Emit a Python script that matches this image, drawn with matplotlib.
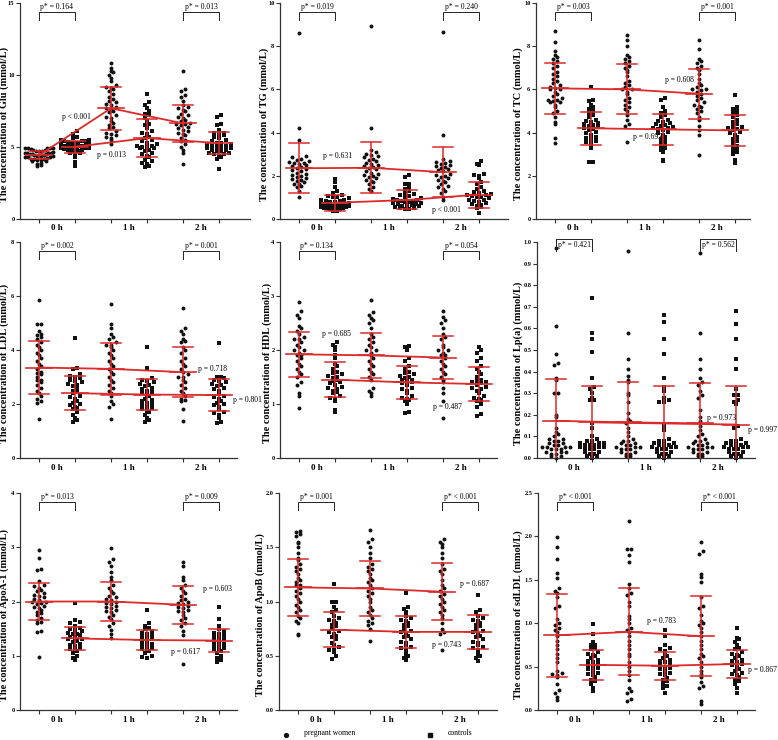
import numpy as np
import matplotlib
matplotlib.use("Agg")
import matplotlib.pyplot as plt

# ---------------- data ----------------
group_order = ["preg_0h", "ctrl_0h", "preg_1h", "ctrl_1h", "preg_2h", "ctrl_2h"]
time_labels = ["0 h", "1 h", "2 h"]
legend_labels = ["pregnant women", "controls"]

# Glu
glu_preg_0h = [3.7,3.75,3.85,3.9,4.0,4.05,4.1,4.1,4.15,4.2,4.2,4.25,4.3,4.3,4.3,4.35,4.4,4.4,4.4,4.45,4.45,4.5,4.5,4.5,4.55,4.6,4.6,4.6,4.65,4.7,4.7,4.75,4.8,4.8,4.85,4.9,4.9,4.95,4.95,4.95]
glu_ctrl_0h = [3.7,3.95,4.3,4.5,4.6,4.6,4.7,4.7,4.75,4.8,4.8,4.85,4.9,4.9,4.95,5.0,5.0,5.0,5.05,5.1,5.1,5.1,5.15,5.2,5.2,5.25,5.3,5.3,5.35,5.4,5.4,5.45,5.5,5.5,5.6,5.7,5.9,6.1]
glu_preg_1h = [5.2,5.5,5.6,5.7,5.8,5.9,6.0,6.1,6.3,6.4,6.5,6.7,6.8,7.0,7.1,7.2,7.4,7.5,7.6,7.7,7.8,7.9,8.0,8.1,8.2,8.3,8.5,8.7,8.9,9.0,9.1,9.2,9.3,9.6,9.8,10.0,10.2,10.3,10.5,10.8]
glu_ctrl_1h = [3.6,3.7,3.8,3.9,4.0,4.1,4.3,4.4,4.5,4.6,4.7,4.8,4.9,4.9,5.0,5.0,5.1,5.1,5.2,5.3,5.4,5.5,5.6,5.7,5.9,6.0,6.1,6.3,6.5,6.6,6.8,7.0,7.2,7.3,7.5,7.7,7.9,8.1,8.7]
glu_preg_2h = [3.8,4.6,4.8,5.0,5.2,5.4,5.5,5.6,5.8,5.9,6.0,6.1,6.2,6.3,6.4,6.5,6.6,6.6,6.7,6.8,6.9,7.0,7.1,7.2,7.3,7.5,7.6,7.7,7.8,7.9,8.2,8.5,8.6,8.9,9.0,10.3]
glu_ctrl_2h = [3.5,4.2,4.3,4.4,4.5,4.5,4.6,4.6,4.7,4.7,4.8,4.8,4.9,4.9,5.0,5.0,5.1,5.1,5.2,5.2,5.3,5.3,5.4,5.5,5.6,5.7,5.8,5.9,6.0,6.0,6.2,6.5,6.6,7.1,7.2]
glu_mean = [4.43, 5.02, 7.69, 5.62, 6.64, 5.27]
glu_sd = [0.27, 0.41, 1.50, 1.33, 1.28, 0.75]

# TG
tg_preg_0h = [1.0,1.3,1.5,1.55,1.6,1.6,1.7,1.75,1.8,1.85,1.9,1.95,2.0,2.05,2.1,2.15,2.2,2.25,2.3,2.35,2.4,2.45,2.5,2.55,2.6,2.6,2.65,2.7,2.75,2.8,2.85,2.9,3.65,4.2,8.6]
tg_ctrl_0h = [0.35,0.38,0.4,0.42,0.45,0.48,0.5,0.5,0.52,0.55,0.55,0.58,0.6,0.6,0.62,0.65,0.65,0.68,0.7,0.72,0.75,0.78,0.8,0.82,0.85,0.88,0.9,0.95,1.0,1.0,1.05,1.1,1.2,1.3,1.5,1.7,1.85]
tg_preg_1h = [1.3,1.4,1.5,1.6,1.7,1.75,1.8,1.9,1.95,2.0,2.05,2.1,2.15,2.2,2.3,2.35,2.4,2.45,2.5,2.55,2.6,2.7,2.75,2.8,2.85,2.9,2.95,3.0,3.1,3.2,4.2,8.95]
tg_ctrl_1h = [0.45,0.48,0.5,0.52,0.55,0.58,0.6,0.62,0.65,0.68,0.7,0.72,0.75,0.78,0.8,0.82,0.85,0.88,0.9,0.92,0.95,1.0,1.05,1.1,1.15,1.2,1.3,1.4,1.5,1.6,1.6,1.95,2.05]
tg_preg_2h = [0.9,1.0,1.2,1.3,1.4,1.5,1.55,1.6,1.7,1.75,1.8,1.9,1.95,2.0,2.05,2.1,2.2,2.25,2.3,2.35,2.4,2.45,2.5,2.55,2.6,2.65,2.7,2.8,3.9,8.65]
tg_ctrl_2h = [0.3,0.5,0.55,0.6,0.65,0.7,0.75,0.8,0.85,0.9,0.9,0.95,1.0,1.0,1.05,1.1,1.1,1.15,1.2,1.25,1.3,1.4,1.5,1.6,1.7,1.9,2.0,2.05,2.1,2.5,2.55,2.7]
tg_mean = [2.35, 0.75, 2.37, 0.88, 2.17, 1.13]
tg_sd = [1.15, 0.36, 1.18, 0.44, 1.17, 0.60]

# TC
tc_preg_0h = [3.5,3.75,4.4,4.5,4.7,4.9,5.0,5.2,5.3,5.4,5.4,5.45,5.5,5.5,5.6,5.7,5.8,5.9,6.0,6.0,6.05,6.1,6.2,6.3,6.4,6.5,6.6,6.7,6.8,7.0,7.1,7.2,7.3,7.4,7.5,7.6,7.8,8.2,8.7]
tc_ctrl_0h = [2.65,2.65,3.3,3.4,3.5,3.55,3.6,3.7,3.75,3.8,3.9,4.0,4.05,4.1,4.15,4.2,4.25,4.3,4.35,4.4,4.45,4.5,4.55,4.6,4.7,4.8,4.9,5.0,5.1,5.2,5.3,5.45,5.5,6.1]
tc_preg_1h = [3.55,4.3,4.4,4.6,4.8,5.0,5.1,5.2,5.3,5.4,5.5,5.6,5.8,5.9,6.0,6.0,6.1,6.2,6.3,6.4,6.6,6.8,6.9,7.0,7.1,7.2,7.3,7.4,7.5,7.6,8.0,8.3,8.5]
tc_ctrl_1h = [2.7,2.75,3.1,3.2,3.3,3.4,3.45,3.5,3.6,3.7,3.8,3.9,4.0,4.05,4.1,4.15,4.2,4.2,4.25,4.3,4.35,4.4,4.45,4.5,4.55,4.6,4.7,4.8,4.9,5.0,5.2,5.5,5.6]
tc_preg_2h = [2.95,3.9,4.1,4.3,4.6,4.7,4.9,5.0,5.1,5.2,5.25,5.3,5.4,5.5,5.6,5.7,5.8,5.9,5.95,6.0,6.0,6.1,6.2,6.3,6.5,6.7,6.9,7.0,7.1,7.2,7.3,7.4,7.85,8.3]
tc_ctrl_2h = [2.6,2.75,3.0,3.1,3.2,3.3,3.35,3.4,3.5,3.6,3.7,3.8,3.9,4.0,4.05,4.1,4.15,4.2,4.25,4.3,4.4,4.5,4.6,4.7,4.8,4.9,5.0,5.1,5.2,5.75]
tc_mean = [6.05, 4.20, 6.00, 4.15, 5.80, 4.10]
tc_sd = [1.17, 0.76, 1.16, 0.71, 1.16, 0.72]

# LDL
ldl_preg_0h = [1.45,2.05,2.1,2.2,2.3,2.4,2.5,2.6,2.7,2.8,2.9,2.9,3.0,3.1,3.15,3.2,3.3,3.4,3.5,3.6,3.7,3.8,3.9,4.0,4.1,4.2,4.3,4.4,4.5,4.55,4.6,4.7,4.95,4.95,5.85]
ldl_ctrl_0h = [1.35,1.4,1.5,1.6,1.7,1.8,1.85,1.9,1.95,2.0,2.05,2.1,2.2,2.25,2.3,2.4,2.45,2.5,2.6,2.65,2.7,2.75,2.8,2.85,2.9,2.95,3.0,3.05,3.1,3.3,3.35,4.45]
ldl_preg_1h = [1.45,1.9,2.0,2.1,2.3,2.4,2.5,2.6,2.7,2.8,2.9,3.0,3.1,3.2,3.3,3.4,3.5,3.6,3.7,3.8,3.9,4.0,4.1,4.2,4.2,4.3,4.4,4.5,4.6,4.8,4.95,5.7]
ldl_ctrl_1h = [1.35,1.4,1.5,1.6,1.7,1.75,1.8,1.85,1.9,1.95,2.0,2.05,2.1,2.15,2.2,2.3,2.35,2.4,2.45,2.5,2.55,2.6,2.65,2.7,2.75,2.8,2.85,2.9,2.95,3.35,4.1]
ldl_preg_2h = [1.38,1.8,2.1,2.15,2.2,2.3,2.4,2.5,2.6,2.7,2.8,2.9,3.0,3.0,3.1,3.2,3.3,3.4,3.5,3.6,3.7,3.9,4.0,4.1,4.3,4.35,4.4,4.6,4.7,4.8,5.55]
ldl_ctrl_2h = [1.28,1.35,1.5,1.6,1.65,1.7,1.8,1.9,1.95,2.0,2.05,2.1,2.2,2.25,2.3,2.4,2.5,2.55,2.6,2.65,2.7,2.75,2.8,2.85,2.9,2.95,3.0,3.0,4.25]
ldl_mean = [3.35, 2.40, 3.30, 2.35, 3.18, 2.33]
ldl_sd = [0.97, 0.63, 0.95, 0.57, 0.92, 0.59]

# HDL
hdl_preg_0h = [0.92,1.15,1.2,1.35,1.4,1.5,1.55,1.6,1.65,1.7,1.75,1.8,1.85,1.9,1.9,1.95,2.0,2.0,2.05,2.1,2.15,2.2,2.2,2.25,2.3,2.35,2.4,2.45,2.6,2.65,2.72,2.88]
hdl_ctrl_0h = [0.85,0.88,1.05,1.1,1.12,1.15,1.2,1.22,1.25,1.28,1.3,1.32,1.35,1.38,1.4,1.42,1.45,1.48,1.5,1.52,1.55,1.58,1.6,1.65,1.7,1.75,1.85,1.9,2.0,2.05,2.1,2.15]
hdl_preg_1h = [1.15,1.2,1.25,1.3,1.45,1.5,1.55,1.6,1.65,1.7,1.75,1.8,1.85,1.9,1.95,2.0,2.0,2.05,2.1,2.15,2.2,2.25,2.3,2.4,2.5,2.55,2.6,2.65,2.7,2.93]
hdl_ctrl_1h = [0.83,0.85,1.0,1.05,1.08,1.1,1.12,1.15,1.2,1.25,1.28,1.3,1.35,1.38,1.4,1.42,1.45,1.45,1.48,1.5,1.52,1.55,1.58,1.6,1.65,1.7,1.8,1.85,2.0,2.05,2.08]
hdl_preg_2h = [0.75,1.05,1.2,1.3,1.4,1.45,1.5,1.55,1.6,1.65,1.7,1.75,1.8,1.85,1.9,1.9,1.95,2.0,2.0,2.05,2.1,2.2,2.25,2.3,2.4,2.5,2.55,2.62,2.72]
hdl_ctrl_2h = [0.78,0.82,0.95,1.0,1.05,1.08,1.1,1.12,1.15,1.2,1.25,1.28,1.3,1.32,1.35,1.38,1.4,1.4,1.42,1.45,1.5,1.55,1.6,1.65,1.7,1.8,1.85,1.95,2.0,2.05]
hdl_mean = [1.92, 1.45, 1.90, 1.40, 1.86, 1.37]
hdl_sd = [0.42, 0.32, 0.42, 0.31, 0.40, 0.31]

# Lp(a)
lpa_preg_0h = [0.97,0.61,0.48,0.44,0.43,0.37,0.36,0.30,0.30,0.20,0.19,0.14,0.12,0.11,0.10,0.09,0.09,0.08,0.08,0.07,0.07,0.06,0.06,0.05,0.05,0.05,0.05,0.04,0.04,0.04,0.03,0.03,0.03,0.02,0.02,0.01,0.01,0.0]
lpa_ctrl_0h = [0.74,0.58,0.55,0.49,0.37,0.33,0.32,0.30,0.28,0.27,0.27,0.16,0.14,0.10,0.09,0.08,0.08,0.07,0.07,0.07,0.06,0.06,0.06,0.05,0.05,0.05,0.04,0.04,0.04,0.03,0.03,0.02,0.02,0.01,0.01,0.0]
lpa_preg_1h = [0.96,0.58,0.46,0.41,0.38,0.36,0.35,0.30,0.29,0.26,0.21,0.18,0.17,0.16,0.14,0.12,0.10,0.09,0.08,0.08,0.07,0.07,0.06,0.06,0.05,0.05,0.05,0.04,0.04,0.04,0.03,0.03,0.02,0.02,0.01,0.01]
lpa_ctrl_1h = [0.66,0.63,0.55,0.48,0.37,0.33,0.31,0.28,0.27,0.26,0.26,0.15,0.13,0.09,0.08,0.08,0.07,0.07,0.06,0.06,0.06,0.05,0.05,0.05,0.04,0.04,0.04,0.03,0.03,0.02,0.02,0.01,0.01,0.0]
lpa_preg_2h = [0.95,0.58,0.46,0.41,0.37,0.35,0.34,0.31,0.29,0.28,0.22,0.19,0.17,0.15,0.13,0.11,0.10,0.09,0.08,0.08,0.07,0.07,0.06,0.06,0.05,0.05,0.05,0.04,0.04,0.04,0.03,0.03,0.02,0.02,0.01,0.01]
lpa_ctrl_2h = [0.68,0.62,0.55,0.46,0.41,0.32,0.29,0.29,0.27,0.26,0.25,0.15,0.14,0.09,0.08,0.08,0.07,0.07,0.06,0.06,0.06,0.05,0.05,0.05,0.04,0.04,0.04,0.03,0.03,0.02,0.02,0.01,0.01,0.0]
lpa_mean = [0.172, 0.165, 0.165, 0.160, 0.160, 0.155]
lpa_sd = [0.193, 0.170, 0.185, 0.173, 0.185, 0.178]

# ApoA-1
apoa_preg_0h = [0.98,1.43,1.45,1.6,1.62,1.65,1.7,1.75,1.78,1.8,1.85,1.88,1.9,1.92,1.95,1.98,2.0,2.0,2.02,2.05,2.08,2.1,2.12,2.15,2.2,2.22,2.25,2.28,2.3,2.38,2.58,2.6,2.8,2.95]
apoa_ctrl_0h = [0.92,0.95,1.0,1.05,1.08,1.1,1.12,1.15,1.18,1.2,1.22,1.25,1.28,1.3,1.3,1.32,1.35,1.38,1.4,1.4,1.42,1.45,1.48,1.5,1.52,1.55,1.6,1.62,1.65,1.97]
apoa_preg_1h = [1.33,1.4,1.48,1.55,1.6,1.68,1.72,1.75,1.8,1.82,1.85,1.88,1.9,1.92,1.95,1.98,2.0,2.02,2.05,2.08,2.1,2.15,2.2,2.25,2.3,2.4,2.45,2.55,2.65,2.72,2.78,2.98]
apoa_ctrl_1h = [0.95,0.97,1.0,1.05,1.08,1.1,1.12,1.15,1.18,1.2,1.22,1.25,1.28,1.3,1.32,1.35,1.38,1.4,1.42,1.45,1.5,1.52,1.55,1.6,1.85]
apoa_preg_2h = [0.84,1.38,1.45,1.55,1.6,1.65,1.7,1.75,1.8,1.82,1.85,1.88,1.9,1.92,1.95,1.98,2.0,2.02,2.05,2.1,2.15,2.2,2.25,2.3,2.4,2.45,2.65,2.72]
apoa_ctrl_2h = [0.88,0.92,0.95,1.0,1.05,1.08,1.1,1.12,1.15,1.18,1.2,1.22,1.25,1.28,1.3,1.32,1.35,1.38,1.4,1.42,1.45,1.5,1.55,1.68,1.9]
apoa_mean = [2.00, 1.32, 2.00, 1.29, 1.94, 1.28]
apoa_sd = [0.35, 0.21, 0.36, 0.19, 0.35, 0.21]

# ApoB
apob_preg_0h = [0.69,0.7,0.8,0.82,0.85,0.87,0.9,0.92,0.95,0.97,1.0,1.02,1.05,1.08,1.1,1.12,1.15,1.15,1.18,1.2,1.22,1.25,1.28,1.3,1.32,1.35,1.38,1.4,1.45,1.5,1.54,1.55,1.6,1.62,1.64,1.65]
apob_ctrl_0h = [0.47,0.5,0.53,0.55,0.55,0.58,0.6,0.62,0.65,0.67,0.68,0.7,0.72,0.73,0.75,0.77,0.78,0.8,0.82,0.83,0.85,0.87,0.9,0.92,0.95,1.0,1.0,1.16]
apob_preg_1h = [0.64,0.75,0.78,0.8,0.82,0.85,0.88,0.9,0.92,0.95,1.0,1.02,1.05,1.08,1.1,1.12,1.15,1.18,1.2,1.22,1.25,1.28,1.3,1.32,1.35,1.4,1.45,1.5,1.55,1.58,1.66]
apob_ctrl_1h = [0.46,0.48,0.5,0.52,0.55,0.57,0.58,0.6,0.62,0.63,0.65,0.67,0.68,0.7,0.72,0.73,0.75,0.77,0.78,0.8,0.82,0.83,0.85,0.87,0.9,0.93,0.95,1.08]
apob_preg_2h = [0.55,0.7,0.72,0.75,0.8,0.85,0.88,0.9,0.92,0.95,0.98,1.0,1.02,1.05,1.07,1.1,1.12,1.15,1.2,1.25,1.28,1.3,1.35,1.4,1.45,1.5,1.53,1.55,1.58]
apob_ctrl_2h = [0.45,0.48,0.5,0.52,0.55,0.57,0.58,0.6,0.62,0.63,0.65,0.67,0.68,0.7,0.72,0.73,0.75,0.77,0.78,0.8,0.82,0.83,0.85,0.87,0.9,0.92,1.06]
apob_mean = [1.13, 0.74, 1.12, 0.72, 1.09, 0.72]
apob_sd = [0.26, 0.16, 0.255, 0.15, 0.265, 0.155]

# sdLDL
sdldl_preg_0h = [0.12,0.15,0.2,0.23,0.3,0.38,0.4,0.42,0.43,0.45,0.55,0.6,0.65,0.7,0.75,0.8,0.85,0.9,0.92,0.95,0.98,1.0,1.05,1.18,1.2,1.3,1.35,1.37,1.4,1.52,1.58,1.74,1.88,1.99]
sdldl_ctrl_0h = [0.22,0.25,0.3,0.33,0.35,0.38,0.4,0.42,0.43,0.45,0.47,0.48,0.5,0.52,0.53,0.55,0.57,0.58,0.6,0.62,0.63,0.65,0.67,0.7,0.72,0.75,0.75,0.78,0.87,0.99]
sdldl_preg_1h = [0.1,0.13,0.2,0.22,0.25,0.35,0.4,0.45,0.5,0.55,0.62,0.65,0.7,0.75,0.8,0.85,0.9,0.92,0.95,1.0,1.05,1.08,1.2,1.25,1.32,1.35,1.4,1.45,1.7,1.78,1.85,1.86,2.18]
sdldl_ctrl_1h = [0.2,0.25,0.28,0.3,0.33,0.35,0.37,0.4,0.42,0.43,0.45,0.47,0.48,0.5,0.52,0.53,0.55,0.57,0.58,0.6,0.62,0.65,0.68,0.7,0.72,0.75,0.85,0.92]
sdldl_preg_2h = [0.07,0.1,0.25,0.28,0.32,0.38,0.42,0.45,0.5,0.55,0.6,0.62,0.65,0.7,0.75,0.8,0.85,0.9,0.95,0.98,1.0,1.02,1.1,1.18,1.2,1.3,1.48,1.53,1.57,1.8,1.83,1.94]
sdldl_ctrl_2h = [0.2,0.25,0.3,0.33,0.35,0.38,0.4,0.42,0.43,0.45,0.47,0.5,0.52,0.53,0.55,0.57,0.58,0.6,0.62,0.63,0.65,0.67,0.7,0.72,0.75,0.78,0.82,0.83,0.95]
sdldl_mean = [0.86, 0.52, 0.90, 0.51, 0.85, 0.53]
sdldl_sd = [0.48, 0.17, 0.50, 0.16, 0.46, 0.165]

ylabels = ["The concentration of Glu (mmol/L)", "The concentration of TG (mmol/L)",
           "The concentration of TC (mmol/L)", "The concentration of LDL (mmol/L)",
           "The concentration of HDL (mmol/L)", "The concentration of Lp(a) (mmol/L)",
           "The concentration of ApoA-1 (mmol/L)", "The concentration of ApoB (mmol/L)",
           "The concentration of sdLDL (mmol/L)"]
pstar_0h = ["p* = 0.164", "p* = 0.019", "p* = 0.003", "p* = 0.002", "p* = 0.134",
            "p* = 0.421", "p* = 0.013", "p* = 0.001", "p* < 0.001"]
pstar_2h = ["p* = 0.013", "p* = 0.240", "p* = 0.001", "p* = 0.001", "p* = 0.054",
            "p* = 0.562", "p* = 0.009", "p* < 0.001", "p* < 0.001"]
p_preg = ["p < 0.001", "p = 0.631", "p = 0.608", "p = 0.718", "p = 0.685",
          "p = 0.973", "p = 0.603", "p = 0.687", "p = 0.783"]
p_ctrl = ["p = 0.013", "p < 0.001", "p = 0.693", "p = 0.801", "p = 0.487",
          "p = 0.997", "p = 0.617", "p = 0.743", "p = 0.867"]

panel_data = [
    ([glu_preg_0h, glu_ctrl_0h, glu_preg_1h, glu_ctrl_1h, glu_preg_2h, glu_ctrl_2h], glu_mean, glu_sd),
    ([tg_preg_0h, tg_ctrl_0h, tg_preg_1h, tg_ctrl_1h, tg_preg_2h, tg_ctrl_2h], tg_mean, tg_sd),
    ([tc_preg_0h, tc_ctrl_0h, tc_preg_1h, tc_ctrl_1h, tc_preg_2h, tc_ctrl_2h], tc_mean, tc_sd),
    ([ldl_preg_0h, ldl_ctrl_0h, ldl_preg_1h, ldl_ctrl_1h, ldl_preg_2h, ldl_ctrl_2h], ldl_mean, ldl_sd),
    ([hdl_preg_0h, hdl_ctrl_0h, hdl_preg_1h, hdl_ctrl_1h, hdl_preg_2h, hdl_ctrl_2h], hdl_mean, hdl_sd),
    ([lpa_preg_0h, lpa_ctrl_0h, lpa_preg_1h, lpa_ctrl_1h, lpa_preg_2h, lpa_ctrl_2h], lpa_mean, lpa_sd),
    ([apoa_preg_0h, apoa_ctrl_0h, apoa_preg_1h, apoa_ctrl_1h, apoa_preg_2h, apoa_ctrl_2h], apoa_mean, apoa_sd),
    ([apob_preg_0h, apob_ctrl_0h, apob_preg_1h, apob_ctrl_1h, apob_preg_2h, apob_ctrl_2h], apob_mean, apob_sd),
    ([sdldl_preg_0h, sdldl_ctrl_0h, sdldl_preg_1h, sdldl_ctrl_1h, sdldl_preg_2h, sdldl_ctrl_2h], sdldl_mean, sdldl_sd),
]

# ---------------- layout / style ----------------
W, H = 778, 740
RED = "#dc2a2a"
SERIF = ["Liberation Serif", "DejaVu Serif"]
plt.rcParams["font.family"] = SERIF

# axes boxes in pixels: left, top, right, bottom
boxes = [(20, 3, 250, 219), (280, 3, 508, 219), (536, 3, 750, 219),
         (20, 242, 237, 458), (280, 242, 497, 458), (537, 242, 755, 458),
         (20, 493, 237, 710), (279, 493, 497, 710), (538, 493, 755, 710)]
ylims = [(0, 15, 5), (0, 10, 2), (0, 10, 2), (0, 8, 2), (0, 4, 1), (0, 1.0, 0.1),
         (0, 4, 1), (0, 2.0, 0.5), (0, 2.5, 0.5)]
yfmt = ["{:.0f}", "{:.0f}", "{:.0f}", "{:.0f}", "{:.0f}", "{:.1f}", "{:.0f}", "{:.1f}", "{:.1f}"]
label_x = [4, 264, 518, 4, 267, 518, 4, 260, 518]
preg_txt_pos = [(1.64, 7.1), (1.67, 2.9), (4.06, 6.43), (5.42, 3.29), (1.64, 2.3),
                (5.19, 0.185), (5.56, 2.23), (5.5, 1.16), (3.5, 1.03)]
ctrl_txt_pos = [(2.61, 4.44), (4.69, 0.43), (3.17, 3.78), (6.4, 2.13), (4.72, 0.94),
                (6.33, 0.13), (4.67, 1.06), (4.72, 0.6), (6.3, 0.46)]

PX_PER_UNIT = 36.0
X_LEFT_PAD = 19.0


def row_swarm(y_px, row_h=4.2, max_half=14.0, sp=4.8):
    """GraphPad-like scatter: points binned into rows, spread evenly within a row."""
    y_px = np.asarray(y_px, float)
    bins = np.floor(y_px / row_h).astype(int)
    xs = np.zeros(len(y_px))
    for bval in np.unique(bins):
        idx = np.where(bins == bval)[0]
        idx = idx[np.argsort(y_px[idx], kind="stable")]
        n = len(idx)
        if n > 1:
            spacing = min(sp, 2 * max_half / (n - 1))
            slots = (np.arange(n) - (n - 1) / 2) * spacing
            order = np.argsort(np.abs(slots) + 1e-3 * np.arange(n), kind="stable")
            xs[idx] = slots[order][np.argsort(np.arange(n))]
    return xs


fig = plt.figure(figsize=(W / 100, H / 100), dpi=100)

for k, ((groups, means, sds), box) in enumerate(zip(panel_data, boxes)):
    l, t, r, b = box
    ax = fig.add_axes([l / W, 1 - b / H, (r - l) / W, (b - t) / H])
    y0, y1, ystep = ylims[k]
    x0 = 1 - X_LEFT_PAD / PX_PER_UNIT
    x1 = x0 + (r - l) / PX_PER_UNIT
    ax.set_xlim(x0, x1)
    ax.set_ylim(y0, y1)
    ppu_y = (b - t) / (y1 - y0)
    xpos = np.arange(1, 7)

    for gi, vals in enumerate(groups):
        v = np.asarray(vals, float)
        offs = row_swarm(v * ppu_y) / PX_PER_UNIT
        if gi % 2 == 0:
            ax.scatter(xpos[gi] + offs, v, s=8, marker="o", color="#111111",
                       linewidths=0, zorder=2, clip_on=False)
        else:
            ax.scatter(xpos[gi] + offs, v, s=9, marker="s", color="#111111",
                       linewidths=0, zorder=2, clip_on=False)
        m, s = means[gi], sds[gi]
        ax.plot([xpos[gi], xpos[gi]], [m - s, m + s], color=RED, lw=1.1, zorder=4)
        ax.plot([xpos[gi] - 0.27, xpos[gi] + 0.27], [m + s, m + s], color=RED, lw=1.1, zorder=4)
        ax.plot([xpos[gi] - 0.27, xpos[gi] + 0.27], [m - s, m - s], color=RED, lw=1.1, zorder=4)
        ax.plot([xpos[gi] - 0.36, xpos[gi] + 0.36], [m, m], color=RED, lw=1.2, zorder=4)

    ax.plot(xpos[0::2], np.asarray(means)[0::2], color=RED, lw=1.3, zorder=3)
    ax.plot(xpos[1::2], np.asarray(means)[1::2], color=RED, lw=1.3, zorder=3)

    for sp in ["top", "right"]:
        ax.spines[sp].set_visible(False)
    for sp in ["left", "bottom"]:
        ax.spines[sp].set_linewidth(0.9)
        ax.spines[sp].set_color("#333333")
    yt = np.arange(y0, y1 + ystep / 2, ystep)
    ax.set_yticks(yt)
    ax.set_yticklabels([yfmt[k].format(v) for v in yt], fontsize=4.6, fontweight="bold")
    ax.set_xticks(xpos)
    ax.set_xticklabels([])
    ax.tick_params(axis="both", length=3, width=0.8, color="#333333", pad=1.0)
    for ti, tl in enumerate(time_labels):
        ax.text(2 * ti + 1.5, -9.5 / ppu_y, tl, ha="center", va="center", fontsize=6.5,
                fontweight="bold", transform=ax.transData, clip_on=False)

    fig.text(label_x[k] / W, 1 - (t + 0.56 * (b - t)) / H, ylabels[k], rotation=90,
             ha="center", va="center", fontsize=7.4, fontweight="bold")

    h = b - t
    for (ga, gb, txt) in [(1, 2, pstar_0h[k]), (5, 6, pstar_2h[k])]:
        if k == 5:
            top = 1 + 3 / h
            bot = 1 - 9 / h
            ax.plot([ga, ga, gb, gb], [bot, top, top, bot], color="#222222", lw=0.7,
                    transform=ax.get_xaxis_transform(), clip_on=False)
            ax.text((ga + gb) / 2, 1 - 3 / h, txt, ha="center", va="center", fontsize=5.5,
                    transform=ax.get_xaxis_transform())
        else:
            top = 1 - 9 / h
            bot = 1 - 17 / h
            ax.plot([ga, ga, gb, gb], [bot, top, top, bot], color="#222222", lw=0.7,
                    transform=ax.get_xaxis_transform(), clip_on=False)
            ax.text((ga + gb) / 2, top + 1.2 / h, txt, ha="center", va="bottom", fontsize=5.5,
                    transform=ax.get_xaxis_transform())

    ax.text(preg_txt_pos[k][0], preg_txt_pos[k][1], p_preg[k], ha="left", va="center",
            fontsize=5.5, zorder=5)
    ax.text(ctrl_txt_pos[k][0], ctrl_txt_pos[k][1], p_ctrl[k], ha="left", va="center",
            fontsize=5.5, zorder=5)

# legend
fig.lines.append(plt.Line2D([286 / W], [1 - 735 / H], marker="o", markersize=2.8,
                            color="#111111", linestyle="none", transform=fig.transFigure))
fig.text(304 / W, 1 - 733 / H, legend_labels[0], ha="left", va="center", fontsize=5.5)
fig.lines.append(plt.Line2D([430 / W], [1 - 735 / H], marker="s", markersize=2.8,
                            color="#111111", linestyle="none", transform=fig.transFigure))
fig.text(448 / W, 1 - 733 / H, legend_labels[1], ha="left", va="center", fontsize=5.5)

fig.savefig("out.png", dpi=100)
